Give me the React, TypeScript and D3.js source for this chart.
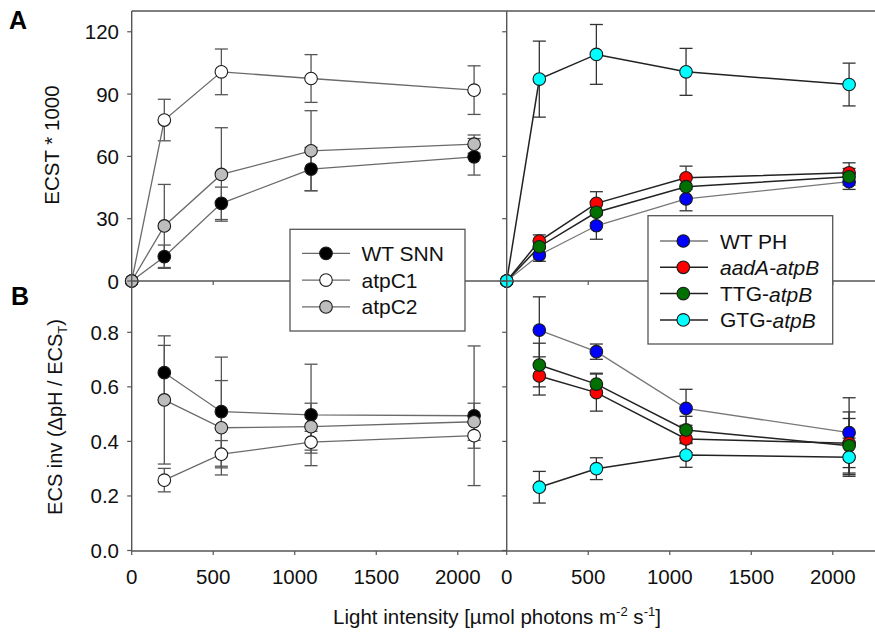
import React from "react";
import * as d3 from "d3";

const lightTop = [0, 200, 550, 1100, 2100];
const lightBottom = [200, 550, 1100, 2100];

const wtSnnT = [0, 11.7, 37.4, 53.9, 59.8];
const wtSnnTErr = [0, 5.6, 7.8, 10.4, 8.8];
const atpC1T = [0, 77.5, 100.7, 97.5, 91.9];
const atpC1TErr = [0, 10, 11, 11.5, 11.7];
const atpC2T = [0, 26.5, 51.3, 62.7, 65.9];
const atpC2TErr = [0, 20, 22.5, 19.3, 4.4];

const wtPhT = [0, 12.5, 26.6, 39.5, 47.8];
const wtPhTErr = [0, 3, 6.5, 5.7, 3.7];
const aadaT = [0, 19.2, 37.4, 49.7, 52.1];
const aadaTErr = [0, 3, 5.6, 5.6, 4.8];
const ttgT = [0, 16.5, 33.1, 45.4, 50.2];
const ttgTErr = [0, 3, 5, 5, 4];
const gtgT = [0, 97.2, 109.1, 100.7, 94.6];
const gtgTErr = [0, 18.3, 14.4, 11.3, 10.3];

const wtSnnI = [0.652, 0.509, 0.497, 0.494];
const wtSnnIErr = [0.1, 0.2, 0.186, 0.256];
const atpC1I = [0.258, 0.353, 0.397, 0.421];
const atpC1IErr = [0.043, 0.05, 0.04, 0.046];
const atpC2I = [0.552, 0.45, 0.454, 0.472];
const atpC2IErr = [0.235, 0.173, 0.086, 0.068];

const wtPhI = [0.808, 0.729, 0.521, 0.432];
const wtPhIErr = [0.122, 0.028, 0.07, 0.128];
const aadaI = [0.64, 0.579, 0.409, 0.393];
const aadaIErr = [0.07, 0.068, 0.05, 0.115];
const ttgI = [0.68, 0.61, 0.442, 0.384];
const ttgIErr = [0.08, 0.04, 0.05, 0.1];
const gtgI = [0.232, 0.3, 0.35, 0.342];
const gtgIErr = [0.058, 0.04, 0.045, 0.07];

const xTicks = [0, 500, 1000, 1500, 2000];
const yTicksTop = [0, 30, 60, 90, 120];
const yTicksBottom = [0, 0.2, 0.4, 0.6, 0.8];

const leftNames = ["WT SNN", "atpC1", "atpC2"];
const rightNames = ["WT PH", "aadA-atpB", "TTG-atpB", "GTG-atpB"];

const FONT = "Arial, 'Liberation Sans', Helvetica, sans-serif";

type Series = {
  name: string;
  x: number[];
  y: number[];
  e: number[];
  fill: string;
  line: string;
  errColor: string;
  lw: number;
};

export default function App() {
  const xL = d3.scaleLinear().domain([0, 2300]).range([131.7, 506.7]);
  const xR = d3.scaleLinear().domain([0, 2300]).range([506.7, 881.7]);
  const yT = d3.scaleLinear().domain([0, 130]).range([281, 11]);
  const yB = d3.scaleLinear().domain([0, 0.8]).range([550.5, 332.3]);

  const gray = "#6a6a6a";
  const dark = "#222";

  const leftTop: Series[] = [
    { name: leftNames[0], x: lightTop, y: wtSnnT, e: wtSnnTErr, fill: "#000", line: gray, errColor: "#555", lw: 1.3 },
    { name: leftNames[1], x: lightTop, y: atpC1T, e: atpC1TErr, fill: "#fff", line: gray, errColor: "#555", lw: 1.3 },
    { name: leftNames[2], x: lightTop, y: atpC2T, e: atpC2TErr, fill: "#bdbdbd", line: gray, errColor: "#555", lw: 1.3 },
  ];
  const leftBot: Series[] = [
    { name: leftNames[0], x: lightBottom, y: wtSnnI, e: wtSnnIErr, fill: "#000", line: gray, errColor: "#555", lw: 1.3 },
    { name: leftNames[1], x: lightBottom, y: atpC1I, e: atpC1IErr, fill: "#fff", line: gray, errColor: "#555", lw: 1.3 },
    { name: leftNames[2], x: lightBottom, y: atpC2I, e: atpC2IErr, fill: "#bdbdbd", line: gray, errColor: "#555", lw: 1.3 },
  ];
  const rightTop: Series[] = [
    { name: rightNames[0], x: lightTop, y: wtPhT, e: wtPhTErr, fill: "#0000ff", line: "#777", errColor: "#333", lw: 1.3 },
    { name: rightNames[1], x: lightTop, y: aadaT, e: aadaTErr, fill: "#ff0000", line: dark, errColor: "#333", lw: 1.5 },
    { name: rightNames[2], x: lightTop, y: ttgT, e: ttgTErr, fill: "#007000", line: dark, errColor: "#333", lw: 1.5 },
    { name: rightNames[3], x: lightTop, y: gtgT, e: gtgTErr, fill: "#00ffff", line: dark, errColor: "#333", lw: 1.5 },
  ];
  const rightBot: Series[] = [
    { name: rightNames[0], x: lightBottom, y: wtPhI, e: wtPhIErr, fill: "#0000ff", line: "#777", errColor: "#333", lw: 1.3 },
    { name: rightNames[1], x: lightBottom, y: aadaI, e: aadaIErr, fill: "#ff0000", line: dark, errColor: "#333", lw: 1.5 },
    { name: rightNames[2], x: lightBottom, y: ttgI, e: ttgIErr, fill: "#007000", line: dark, errColor: "#333", lw: 1.5 },
    { name: rightNames[3], x: lightBottom, y: gtgI, e: gtgIErr, fill: "#00ffff", line: dark, errColor: "#333", lw: 1.5 },
  ];

  const R = 6.3;
  const cap = 6.5;

  const renderPanel = (
    key: string,
    series: Series[],
    xs: d3.ScaleLinear<number, number>,
    ys: d3.ScaleLinear<number, number>
  ) => {
    const line = d3.line<[number, number]>().x((d) => xs(d[0])).y((d) => ys(d[1]));
    return (
      <g key={key}>
        {series.map((s, si) => (
          <g key={"e" + si}>
            {s.x.map((xv, i) =>
              s.e[i] > 0 ? (
                <g key={i} stroke={s.errColor} strokeWidth={1.3}>
                  <line x1={xs(xv)} x2={xs(xv)} y1={ys(s.y[i] - s.e[i])} y2={ys(s.y[i] + s.e[i])} />
                  <line x1={xs(xv) - cap} x2={xs(xv) + cap} y1={ys(s.y[i] + s.e[i])} y2={ys(s.y[i] + s.e[i])} />
                  <line x1={xs(xv) - cap} x2={xs(xv) + cap} y1={ys(s.y[i] - s.e[i])} y2={ys(s.y[i] - s.e[i])} />
                </g>
              ) : null
            )}
          </g>
        ))}
        {series.map((s, si) => (
          <path
            key={"l" + si}
            d={line(s.x.map((xv, i) => [xv, s.y[i]] as [number, number])) || ""}
            fill="none"
            stroke={s.line}
            strokeWidth={s.lw}
          />
        ))}
        {series.map((s, si) => (
          <g key={"m" + si}>
            {s.x.map((xv, i) => (
              <circle key={i} cx={xs(xv)} cy={ys(s.y[i])} r={R} fill={s.fill} stroke="#1a1a1a" strokeWidth={1.1} />
            ))}
          </g>
        ))}
      </g>
    );
  };

  const axisColor = "#555";

  return (
    <div style={{ position: "absolute", left: 0, top: 0 }}>
      <svg width={875} height={635} style={{ display: "block", background: "#fff" }} fontFamily={FONT}>
        {/* data */}
        {renderPanel("lt", leftTop, xL, yT)}
        {renderPanel("lb", leftBot, xL, yB)}
        {renderPanel("rt", rightTop, xR, yT)}
        {renderPanel("rb", rightBot, xR, yB)}

        {/* frame */}
        <g stroke={axisColor} strokeWidth={1.4} fill="none">
          <line x1={xL(0)} x2={xL(0)} y1={yT(130)} y2={551} />
          <line x1={xR(0)} x2={xR(0)} y1={yT(130)} y2={551} />
          <line x1={xL(0)} x2={875} y1={yT(130)} y2={yT(130)} />
          <line x1={xL(0)} x2={875} y1={yT(0)} y2={yT(0)} />
          <line x1={xL(0)} x2={875} y1={551} y2={551} />
        </g>

        {/* ticks */}
        <g stroke={axisColor} strokeWidth={1.2}>
          {yTicksTop.map((t) => (
            <g key={"yt" + t}>
              <line x1={xL(0) - 4.5} x2={xL(0)} y1={yT(t)} y2={yT(t)} />
              <line x1={xR(0) - 4.5} x2={xR(0)} y1={yT(t)} y2={yT(t)} />
            </g>
          ))}
          {yTicksBottom.map((t) => (
            <g key={"yb" + t}>
              <line x1={xL(0) - 4.5} x2={xL(0)} y1={yB(t)} y2={yB(t)} />
              <line x1={xR(0) - 4.5} x2={xR(0)} y1={yB(t)} y2={yB(t)} />
            </g>
          ))}
          {xTicks.map((t) => (
            <g key={"xt" + t}>
              <line x1={xL(t)} x2={xL(t)} y1={551} y2={555} />
              <line x1={xR(t)} x2={xR(t)} y1={551} y2={555} />
              <line x1={xL(t)} x2={xL(t)} y1={yT(0)} y2={yT(0) + 4} />
              <line x1={xR(t)} x2={xR(t)} y1={yT(0)} y2={yT(0) + 4} />
            </g>
          ))}
        </g>

        {/* tick labels */}
        <g fontSize={20.5} fill="#111">
          {yTicksTop.map((t) => (
            <text key={"ytl" + t} x={119} y={yT(t)} textAnchor="end" dominantBaseline="central">
              {t}
            </text>
          ))}
          {yTicksBottom.map((t) => (
            <text key={"ybl" + t} x={119} y={yB(t)} textAnchor="end" dominantBaseline="central">
              {t.toFixed(1)}
            </text>
          ))}
          {xTicks.map((t) => (
            <g key={"xtl" + t}>
              <text x={xL(t)} y={584} textAnchor="middle">{t}</text>
              <text x={xR(t)} y={584} textAnchor="middle">{t}</text>
            </g>
          ))}
        </g>

        {/* axis titles */}
        <text x={497} y={624} fontSize={20.5} textAnchor="middle" fill="#111">
          Light intensity [µmol photons m
          <tspan fontSize={13} dy={-8}>-2</tspan>
          <tspan dy={8}> s</tspan>
          <tspan fontSize={13} dy={-8}>-1</tspan>
          <tspan dy={8}>]</tspan>
        </text>
        <text transform="translate(59,145) rotate(-90)" fontSize={20.5} textAnchor="middle" fill="#111">
          ECST * 1000
        </text>
        <text transform="translate(62,417) rotate(-90)" fontSize={20} textAnchor="middle" fill="#111">
          ECS inv (ΔpH / ECS
          <tspan fontSize={13} dy={5}>T</tspan>
          <tspan dy={-5}>)</tspan>
        </text>

        {/* panel letters */}
        <text x={9} y={29} fontSize={25} fontWeight="bold" fill="#000">A</text>
        <text x={11} y={305} fontSize={25} fontWeight="bold" fill="#000">B</text>

        {/* legend left */}
        <g>
          <rect x={290} y={229.3} width={175} height={101.7} fill="#fff" stroke={axisColor} strokeWidth={1.3} />
          {leftTop.map((s, i) => {
            const cy = 253.3 + i * 26.8;
            return (
              <g key={"lg" + i}>
                <line x1={302} x2={350} y1={cy} y2={cy} stroke={s.line} strokeWidth={1.3} />
                <circle cx={326} cy={cy} r={R} fill={s.fill} stroke="#1a1a1a" strokeWidth={1.1} />
                <text x={361.5} y={cy} dominantBaseline="central" fontSize={21} fill="#111">
                  {s.name}
                </text>
              </g>
            );
          })}
        </g>

        {/* legend right */}
        <g>
          <rect x={648} y={215.7} width={184.7} height={128.3} fill="#fff" stroke={axisColor} strokeWidth={1.3} />
          {rightTop.map((s, i) => {
            const cy = 241 + i * 26.3;
            const parts = s.name.split("-");
            return (
              <g key={"rg" + i}>
                <line x1={660} x2={708} y1={cy} y2={cy} stroke={s.line} strokeWidth={s.lw} />
                <circle cx={683.3} cy={cy} r={R} fill={s.fill} stroke="#1a1a1a" strokeWidth={1.1} />
                <text x={720} y={cy} dominantBaseline="central" fontSize={21} fill="#111">
                  {i === 0 ? (
                    s.name
                  ) : i === 1 ? (
                    <tspan fontStyle="italic">{s.name}</tspan>
                  ) : (
                    <>
                      {parts[0] + "-"}
                      <tspan fontStyle="italic">{parts[1]}</tspan>
                    </>
                  )}
                </text>
              </g>
            );
          })}
        </g>
      </svg>
    </div>
  );
}
